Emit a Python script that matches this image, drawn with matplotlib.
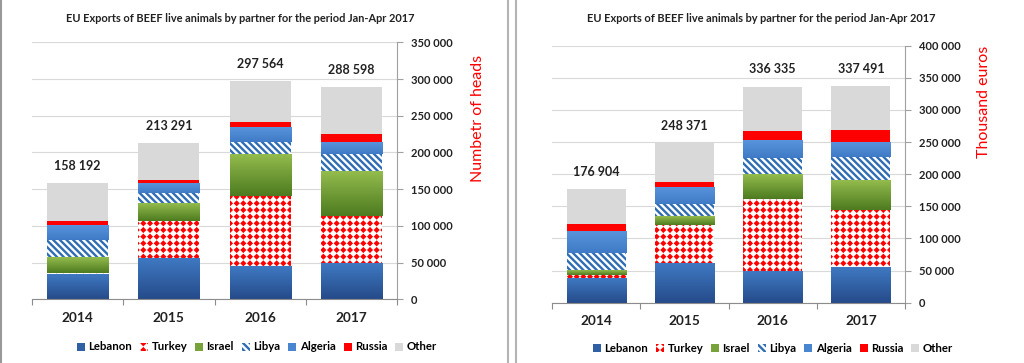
import numpy as np
import matplotlib
matplotlib.use('Agg')
import matplotlib.pyplot as plt
import matplotlib.hatch as mhatch
from matplotlib.path import Path
from matplotlib.ticker import FuncFormatter, MultipleLocator, FixedLocator
from matplotlib.lines import Line2D

# ---------------- data ----------------
years = ['2014', '2015', '2016', '2017']
partners = ['Lebanon', 'Turkey', 'Israel', 'Libya', 'Algeria', 'Russia', 'Other']

# Number of heads
heads_lebanon = [34000, 54500, 44500, 48100]
heads_turkey = [2300, 52200, 96700, 65400]
heads_israel = [20500, 24100, 56800, 60400]
heads_libya = [24000, 13600, 16800, 23700]
heads_algeria = [20000, 13600, 19100, 15800]
heads_russia = [5900, 4600, 7700, 11400]
heads_other = [51492, 50691, 55964, 63798]
heads_totals = [158192, 213291, 297564, 288598]

# Thousand euros
euros_lebanon = [37900, 61200, 49800, 56000]
euros_turkey = [5100, 59700, 111000, 87700]
euros_israel = [7300, 14000, 38400, 45600]
euros_libya = [26500, 18600, 25400, 37900]
euros_algeria = [33200, 26000, 27500, 22800]
euros_russia = [11900, 8300, 14500, 18700]
euros_other = [55004, 60571, 69735, 68791]
euros_totals = [176904, 248371, 336335, 337491]

title = 'EU Exports of BEEF live animals by partner for the period Jan-Apr 2017'

# ---------------- custom dot hatch (square grid of diamond dots) ----------------
class GridDots(mhatch.HatchPatternBase):
    def __init__(self, hatch, density):
        self.n = hatch.count('.') * 15
        shape = Path.unit_regular_polygon(4)
        self.sv = shape.vertices
        self.sc = shape.codes
        self.num_vertices = self.n * self.n * len(self.sv) if self.n else 0

    def set_vertices_and_codes(self, vertices, codes):
        r = 0.014
        pts = (np.arange(self.n) + 0.5) / self.n
        parts = [self.sv * r + [x, y] for y in pts for x in pts]
        vertices[:] = np.concatenate(parts)
        codes[:] = np.tile(self.sc, self.n * self.n)

mhatch._hatch_types = [t for t in mhatch._hatch_types
                       if t is not mhatch.SmallFilledCircles] + [GridDots]

plt.rcParams['hatch.linewidth'] = 1.7
plt.rcParams['font.family'] = ['Lato', 'DejaVu Sans']

styles = {
    'Lebanon': dict(face='#2f5fa5', grad=('#254b8a', '#3f79c2')),
    'Turkey': dict(face='white', edge='#ff0000', hatch='.'),
    'Israel': dict(face='#77a33a', grad=('#4d7b1f', '#93bb4d')),
    'Libya': dict(face='white', edge='#2e6db4', hatch='\\' * 5),
    'Algeria': dict(face='#4a86d0', grad=('#3f7ac6', '#5893dc')),
    'Russia': dict(face='#ff0000'),
    'Other': dict(face='#d9d9d9'),
}


def fmt(v, pos=None):
    return f'{int(round(v)):,}'.replace(',', ' ')


def hex2rgb(h):
    h = h.lstrip('#')
    return np.array([int(h[i:i + 2], 16) / 255 for i in (0, 2, 4)])


def draw_chart(ax, series, totals, ymax):
    x = np.arange(len(years))
    bottom = np.zeros(len(years))
    containers = []
    for name, vals in zip(partners, series):
        st = styles[name]
        bars = ax.bar(x, vals, width=0.67, bottom=bottom, color=st['face'],
                      edgecolor=st.get('edge', 'none'), linewidth=0,
                      hatch=st.get('hatch'), label=name, zorder=2)
        if 'grad' in st:
            c0, c1 = hex2rgb(st['grad'][0]), hex2rgb(st['grad'][1])
            t = np.linspace(0, 1, 64)[:, None, None]
            img = c0 * (1 - t) + c1 * t
            for p in bars.patches:
                ax.imshow(img, extent=[p.get_x(), p.get_x() + p.get_width(),
                                       p.get_y(), p.get_y() + p.get_height()],
                          origin='lower', aspect='auto', zorder=2.1,
                          interpolation='bilinear')
        containers.append(bars)
        bottom = bottom + np.array(vals)
    for xi, tot in zip(x, totals):
        ax.annotate(fmt(tot), (xi, tot), xytext=(0, 8), textcoords='offset points',
                    ha='center', va='bottom', fontsize=9, fontweight='bold',
                    color='#222222')
    ax.set_xlim(-0.5, len(years) - 0.5)
    ax.set_ylim(0, ymax)
    ax.yaxis.set_major_locator(MultipleLocator(50000))
    ax.yaxis.set_major_formatter(FuncFormatter(fmt))
    ax.yaxis.tick_right()
    ax.tick_params(axis='y', which='major', direction='out', length=4, width=0.8,
                   color='#a0a0a0', pad=6, labelsize=8, labelcolor='#222222')
    for lab in ax.get_yticklabels():
        lab.set_fontweight('bold')
    ax.grid(axis='y', color='#d9d9d9', linewidth=0.8, zorder=0)
    ax.set_axisbelow(True)
    ax.set_xticks(x)
    ax.set_xticklabels(years, fontsize=9.8, fontweight='bold', color='#222222')
    ax.tick_params(axis='x', which='major', length=0, pad=9)
    ax.xaxis.set_minor_locator(FixedLocator(np.arange(-0.5, len(years), 1.0)))
    ax.tick_params(axis='x', which='minor', length=4, width=0.8, color='#8c8c8c',
                   direction='out')
    for s in ['top', 'left']:
        ax.spines[s].set_visible(False)
    ax.spines['right'].set_color('#a0a0a0')
    ax.spines['right'].set_linewidth(0.8)
    ax.spines['bottom'].set_color('#8c8c8c')
    ax.spines['bottom'].set_linewidth(0.8)
    return containers


fig = plt.figure(figsize=(10.24, 3.63), dpi=100)
W, H = 1024, 363

ax1 = fig.add_axes([32 / W, 1 - 299.3 / H, (397 - 32) / W, (299.3 - 42.3) / H])
ax2 = fig.add_axes([552 / W, 1 - 302.7 / H, (905 - 552) / W, (302.7 - 45.7) / H])

c1 = draw_chart(ax1, [heads_lebanon, heads_turkey, heads_israel, heads_libya,
                      heads_algeria, heads_russia, heads_other], heads_totals, 350000)
c2 = draw_chart(ax2, [euros_lebanon, euros_turkey, euros_israel, euros_libya,
                      euros_algeria, euros_russia, euros_other], euros_totals, 400000)

fig.text(240 / W, 1 - 18 / H, title, ha='center', va='center', fontsize=7.9,
         fontweight='bold', color='#222222')
fig.text(761.5 / W, 1 - 19 / H, title, ha='center', va='center', fontsize=7.9,
         fontweight='bold', color='#222222')
fig.text(478 / W, 1 - 118 / H, 'Numbetr of heads', rotation=90, ha='center',
         va='center', fontsize=11.5, color='#ff0000')
fig.text(984 / W, 1 - 102 / H, 'Thousand euros', rotation=90, ha='center',
         va='center', fontsize=11.5, color='#ff0000')

for cont, cx, cy in [(c1, 257, 347), (c2, 773, 348)]:
    fig.legend(cont, partners, loc='center', bbox_to_anchor=(cx / W, 1 - cy / H),
               ncol=7, frameon=False, handlelength=0.7, handleheight=0.7,
               handletextpad=0.3, columnspacing=0.7,
               prop=dict(family='Lato', weight='bold', size=8.2))

# panel separators / borders
for xp, col in [(0.8, '#999999'), (507.7, '#b4b4b4'), (515.7, '#b4b4b4')]:
    fig.add_artist(Line2D([xp / W, xp / W], [0, 1], transform=fig.transFigure,
                          color=col, linewidth=1.5))

fig.savefig('out.png', dpi=100)
